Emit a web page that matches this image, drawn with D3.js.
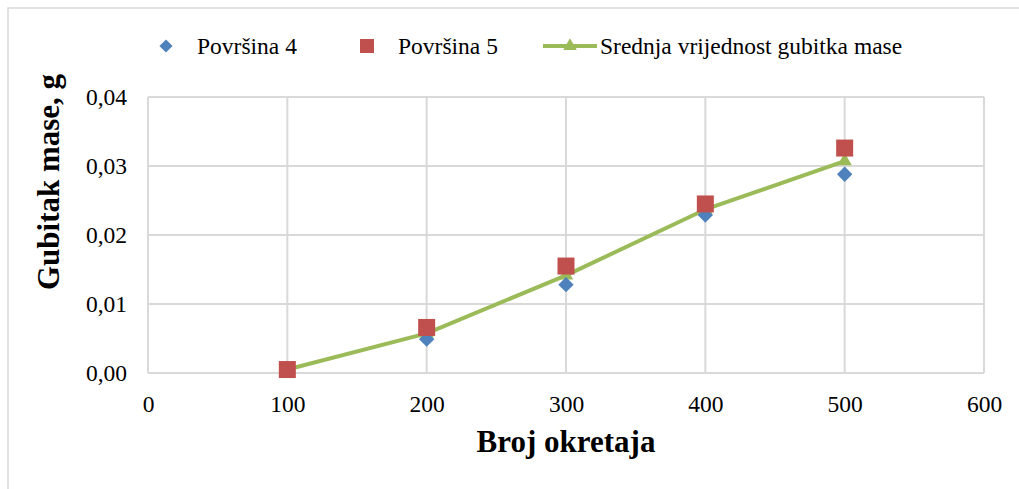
<!DOCTYPE html>
<html>
<head>
<meta charset="utf-8">
<script src="https://cdn.jsdelivr.net/npm/d3@7"></script>
<style>
  html, body { margin: 0; padding: 0; background: #fff; }
  svg { display: block; }
  text { font-family: "Liberation Serif", "Times New Roman", serif; fill: #000; }
</style>
</head>
<body>
<svg id="chart" width="1019" height="489"></svg>
<script>
// Broj okretaja (revolutions)
const revolutions = [100, 200, 300, 400, 500];
// Mass loss per surface, g
const surface4 = [0.0005, 0.0049, 0.0128, 0.0229, 0.0288];
const surface5 = [0.0005, 0.0066, 0.0155, 0.0245, 0.0326];
// Mean mass loss, g
const meanLoss = [0.0005, 0.00575, 0.01415, 0.0237, 0.0307];

const xTicks = [0, 100, 200, 300, 400, 500, 600];
const yTicks = [0, 0.01, 0.02, 0.03, 0.04];

const seriesNames = ["Površina 4", "Površina 5", "Srednja vrijednost gubitka mase"];
const colors = { blue: "#4f81bd", red: "#c0504d", green: "#9bbb59", grid: "#d9d9d9" };

const svg = d3.select("#chart");

// outer chart frame
svg.append("rect")
  .attr("x", 8).attr("y", 8).attr("width", 1030).attr("height", 500)
  .attr("fill", "none").attr("stroke", colors.grid).attr("stroke-width", 1.5);

const plot = { left: 148, right: 984, top: 97, bottom: 373 };

const x = d3.scaleLinear().domain([0, 600]).range([plot.left, plot.right]);
const y = d3.scaleLinear().domain([0, 0.04]).range([plot.bottom, plot.top]);

const fmtY = v => d3.format(".2f")(v).replace(".", ",");

// grid lines
const grid = svg.append("g");
grid.selectAll("line.v").data(xTicks).join("line")
  .attr("x1", d => x(d)).attr("x2", d => x(d))
  .attr("y1", plot.top).attr("y2", plot.bottom)
  .attr("stroke", colors.grid).attr("stroke-width", 2);
grid.selectAll("line.h").data(yTicks).join("line")
  .attr("x1", plot.left).attr("x2", plot.right)
  .attr("y1", d => y(d)).attr("y2", d => y(d))
  .attr("stroke", colors.grid).attr("stroke-width", 2);

// axes (labels only, lines come from the grid)
const xAxis = svg.append("g")
  .attr("transform", `translate(0,${plot.bottom})`)
  .call(d3.axisBottom(x).tickValues(xTicks).tickSize(0).tickPadding(0).tickFormat(d3.format("d")));
xAxis.select(".domain").remove();
xAxis.selectAll("text")
  .attr("y", 39).attr("dy", null)
  .style("font-family", '"Liberation Serif", serif').style("font-size", "23.5px");

const yAxis = svg.append("g")
  .attr("transform", `translate(${plot.left},0)`)
  .call(d3.axisLeft(y).tickValues(yTicks).tickSize(0).tickPadding(21).tickFormat(fmtY));
yAxis.select(".domain").remove();
yAxis.selectAll("text")
  .style("font-family", '"Liberation Serif", serif').style("font-size", "23.5px");

// axis titles
svg.append("text")
  .attr("x", 566).attr("y", 452)
  .attr("text-anchor", "middle")
  .style("font-size", "31px").style("font-weight", "bold")
  .text("Broj okretaja");

svg.append("text")
  .attr("transform", "translate(59,182) rotate(-90)")
  .attr("text-anchor", "middle")
  .style("font-size", "31px").style("font-weight", "bold")
  .text("Gubitak mase, g");

// mean line with triangle markers
const meanData = revolutions.map((r, i) => ({ r, v: meanLoss[i] }));
svg.append("path")
  .datum(meanData)
  .attr("fill", "none")
  .attr("stroke", colors.green)
  .attr("stroke-width", 4)
  .attr("stroke-linejoin", "round")
  .attr("d", d3.line().x(d => x(d.r)).y(d => y(d.v)));

const triangle = d3.symbol().type(d3.symbolTriangle).size(90);
svg.append("g").selectAll("path").data(meanData).join("path")
  .attr("d", triangle)
  .attr("transform", d => `translate(${x(d.r)},${y(d.v)})`)
  .attr("fill", colors.green);

// Površina 4 - diamonds
const diamond = d3.symbol().type(d3.symbolDiamond2).size(150);
svg.append("g").selectAll("path").data(revolutions.map((r, i) => ({ r, v: surface4[i] }))).join("path")
  .attr("d", diamond)
  .attr("transform", d => `translate(${x(d.r)},${y(d.v)})`)
  .attr("fill", colors.blue);

// Površina 5 - squares
const sq = 17;
svg.append("g").selectAll("rect").data(revolutions.map((r, i) => ({ r, v: surface5[i] }))).join("rect")
  .attr("x", d => x(d.r) - sq / 2).attr("y", d => y(d.v) - sq / 2)
  .attr("width", sq).attr("height", sq)
  .attr("fill", colors.red);

// legend
const legend = svg.append("g");
const ly = 46;
legend.append("path").attr("d", d3.symbol().type(d3.symbolDiamond2).size(110)())
  .attr("transform", `translate(166,${ly})`).attr("fill", colors.blue);
legend.append("text").attr("x", 197).attr("y", ly + 8).style("font-size", "23.5px").text(seriesNames[0]);

legend.append("rect").attr("x", 367 - 7).attr("y", ly - 7).attr("width", 14).attr("height", 14)
  .attr("fill", colors.red);
legend.append("text").attr("x", 398).attr("y", ly + 8).style("font-size", "23.5px").text(seriesNames[1]);

legend.append("line").attr("x1", 543).attr("x2", 597).attr("y1", ly).attr("y2", ly)
  .attr("stroke", colors.green).attr("stroke-width", 4);
legend.append("path").attr("d", d3.symbol().type(d3.symbolTriangle).size(80)())
  .attr("transform", `translate(570,${ly})`).attr("fill", colors.green);
legend.append("text").attr("x", 600).attr("y", ly + 8).style("font-size", "23.5px").text(seriesNames[2]);
</script>
</body>
</html>
